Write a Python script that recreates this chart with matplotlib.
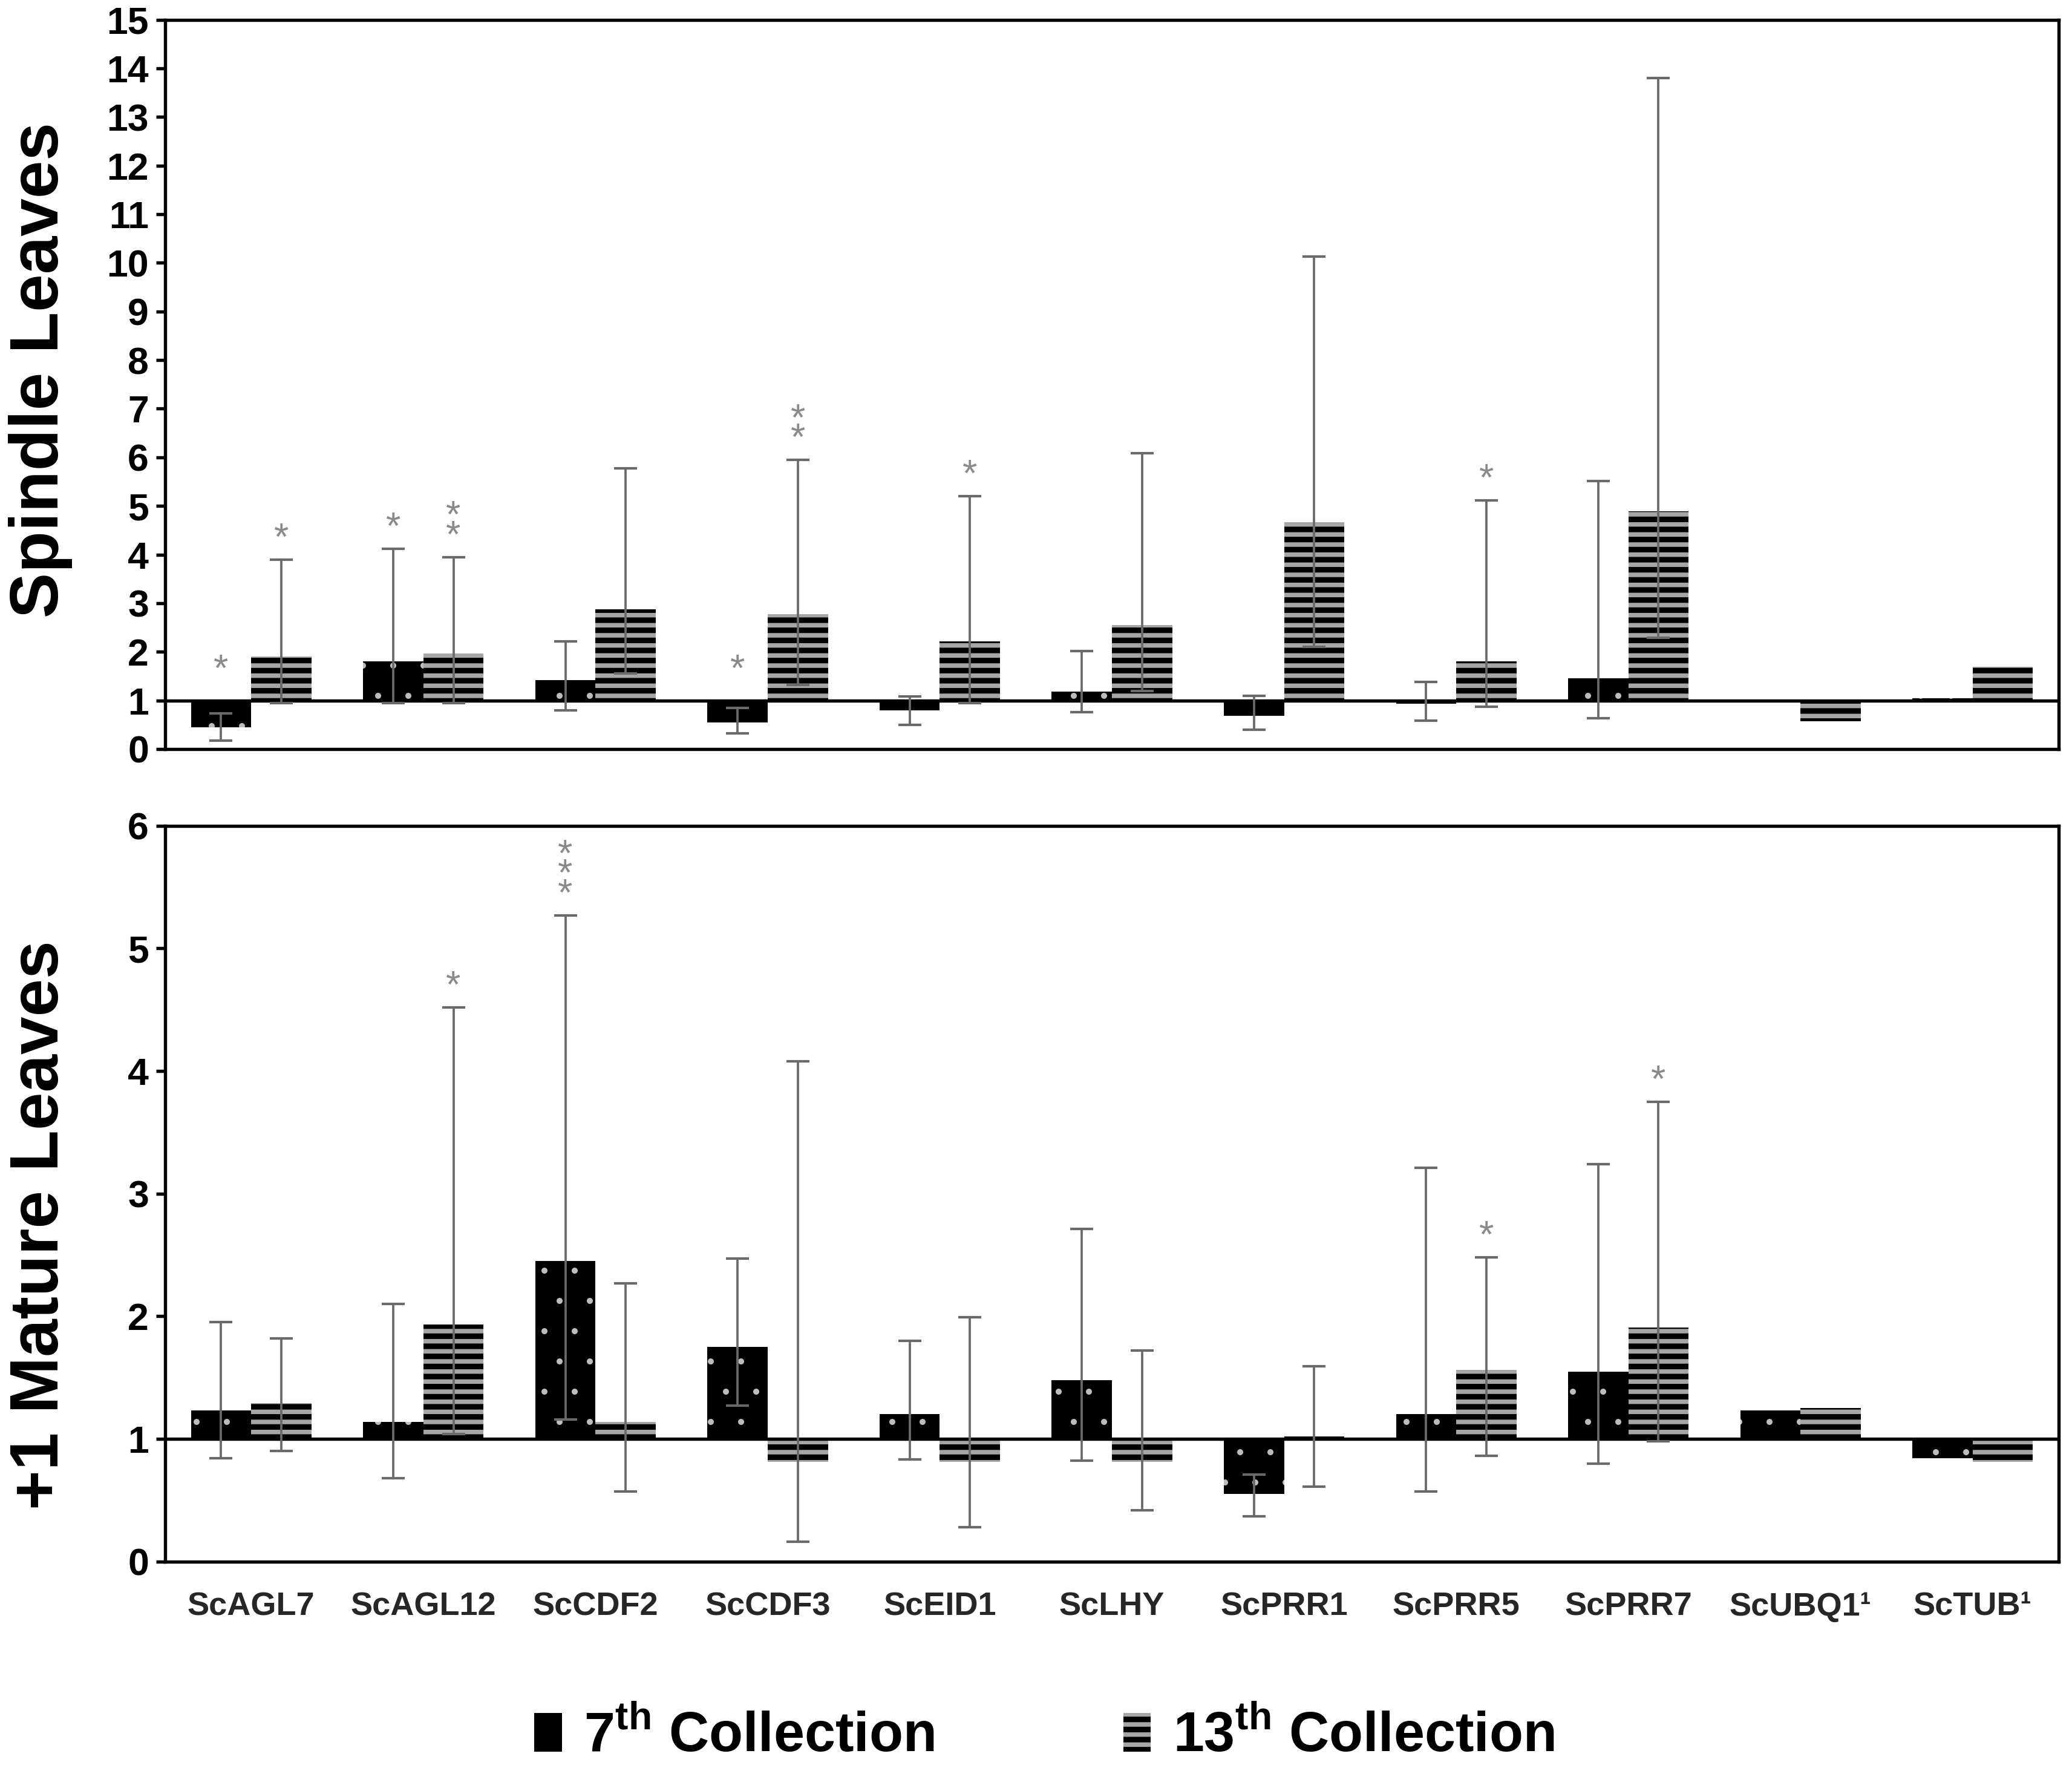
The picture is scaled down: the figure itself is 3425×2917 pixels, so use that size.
import numpy as np
import matplotlib.pyplot as plt
from matplotlib.patches import Patch

plt.rcParams['font.family'] = ['Liberation Sans', 'DejaVu Sans']
plt.rcParams['mathtext.fontset'] = 'custom'
plt.rcParams['mathtext.rm'] = 'Liberation Sans:bold'
plt.rcParams['hatch.linewidth'] = 2.2

nan = np.nan
genes = ['ScAGL7', 'ScAGL12', 'ScCDF2', 'ScCDF3', 'ScEID1', 'ScLHY',
         'ScPRR1', 'ScPRR5', 'ScPRR7', 'ScUBQ1¹', 'ScTUB¹']

# Spindle leaves: mean and error bar ends
sp7 = [0.45, 1.80, 1.42, 0.55, 0.80, 1.18, 0.68, 0.93, 1.46, 1.00, 1.05]
sp7_lo = [0.17, 0.95, 0.80, 0.32, 0.50, 0.76, 0.40, 0.59, 0.64, nan, nan]
sp7_hi = [0.73, 4.12, 2.22, 0.85, 1.08, 2.02, 1.10, 1.38, 5.51, nan, nan]
sp13 = [1.90, 1.96, 2.88, 2.77, 2.21, 2.55, 4.67, 1.80, 4.89, 0.57, 1.69]
sp13_lo = [0.95, 0.95, 1.55, 1.32, 0.95, 1.20, 2.10, 0.87, 2.29, nan, nan]
sp13_hi = [3.90, 3.95, 5.78, 5.95, 5.20, 6.08, 10.13, 5.12, 13.80, nan, nan]
sp7_sig = ['*', '*', '', '*', '', '', '', '', '', '', '']
sp13_sig = ['*', '**', '', '**', '*', '', '', '*', '', '', '']

# +1 mature leaves
mt7 = [1.23, 1.14, 2.45, 1.75, 1.20, 1.48, 0.55, 1.20, 1.55, 1.23, 0.84]
mt7_lo = [0.84, 0.68, 1.16, 1.27, 0.83, 0.82, 0.37, 0.57, 0.80, nan, nan]
mt7_hi = [1.95, 2.10, 5.27, 2.47, 1.80, 2.71, 0.71, 3.21, 3.24, nan, nan]
mt13 = [1.29, 1.93, 1.14, 0.81, 0.81, 0.81, 1.02, 1.56, 1.91, 1.25, 0.81]
mt13_lo = [0.90, 1.04, 0.57, 0.16, 0.28, 0.42, 0.61, 0.86, 0.98, nan, nan]
mt13_hi = [1.82, 4.52, 2.27, 4.08, 1.99, 1.72, 1.59, 2.48, 3.75, nan, nan]
mt7_sig = ['', '', '***', '', '', '', '', '', '', '', '']
mt13_sig = ['', '*', '', '', '', '', '', '*', '*', '', '']

fig = plt.figure(figsize=(3425 / 300, 2917 / 300), dpi=300)
ax1 = fig.add_axes([0.0797, 0.5756, 0.9139, 0.4132])
ax2 = fig.add_axes([0.0797, 0.1153, 0.9139, 0.4169])

x = np.arange(len(genes))
w = 0.35
err_col = '#6a6a6a'


def draw_series(ax, xs, vals, lo, hi, sig, style):
    vals = np.array(vals)
    lo = np.array(lo)
    hi = np.array(hi)
    if style == 7:
        bars = ax.bar(xs, vals - 1, width=w, bottom=1, color='black',
                      edgecolor='#bdbdbd', linewidth=0, hatch='.', zorder=2)
        hlw = 0.0
    else:
        bars = ax.bar(xs, vals - 1, width=w, bottom=1, color='#a6a6a6',
                      edgecolor='black', linewidth=0, hatch='---', zorder=2)
        hlw = 2.2
    for p in bars:
        if hasattr(p, 'set_hatch_linewidth'):
            p.set_hatch_linewidth(hlw)
    m = ~np.isnan(lo)
    ax.errorbar(xs[m], vals[m], yerr=[vals[m] - lo[m], hi[m] - vals[m]],
                fmt='none', ecolor=err_col, elinewidth=0.9, capsize=4.5,
                capthick=1.0, zorder=3)
    for i, s in enumerate(sig):
        if not s:
            continue
        y0 = hi[i] if hi[i] > 1 else 1.2
        ax.annotate('\n'.join(s), (xs[i], y0), xytext=(0, 1),
                    textcoords='offset points', ha='center', va='bottom',
                    color='#8a8a8a', fontsize=15, linespacing=0.42)
    return bars


for ax, d7, d13, ymax in [(ax1, (sp7, sp7_lo, sp7_hi, sp7_sig),
                                (sp13, sp13_lo, sp13_hi, sp13_sig), 15),
                               (ax2, (mt7, mt7_lo, mt7_hi, mt7_sig),
                                (mt13, mt13_lo, mt13_hi, mt13_sig), 6)]:
    b7 = draw_series(ax, x - w / 2, *d7, style=7)
    b13 = draw_series(ax, x + w / 2, *d13, style=13)
    ax.axhline(1, color='black', lw=1.3, zorder=2.5)
    ax.set_xlim(-0.5, len(genes) - 0.5)
    ax.set_ylim(0, ymax)
    ax.set_yticks(range(0, ymax + 1))
    for sp in ax.spines.values():
        sp.set_linewidth(1.3)
    ax.tick_params(axis='y', direction='out', length=3.5, width=1.3, pad=3)
    ax.tick_params(axis='x', length=0)
    for t in ax.get_yticklabels():
        t.set_fontfamily(['Liberation Sans Narrow', 'Liberation Sans'])
        t.set_fontweight('bold')
        t.set_fontsize(15)

ax1.set_xticks([])
ax2.set_xticks(x)
ax2.set_xticklabels(genes, fontsize=13, fontweight='bold', color='#262626')
ax2.tick_params(axis='x', pad=12)

ax1.set_ylabel('Spindle Leaves', fontsize=27, fontweight='bold')
ax2.set_ylabel('+1 Mature Leaves', fontsize=27, fontweight='bold')
ax1.yaxis.set_label_coords(-0.049, 0.52)
ax2.yaxis.set_label_coords(-0.049, 0.457)

h7 = Patch(facecolor='black', edgecolor='black', linewidth=0)
h13 = Patch(facecolor='#a6a6a6', edgecolor='black', linewidth=0, hatch='---')
if hasattr(h13, 'set_hatch_linewidth'):
    h13.set_hatch_linewidth(2.2)

fig.legend([h7, h13], [r'7$^{\rm th}$ Collection', r'13$^{\rm th}$ Collection'],
           loc='center', bbox_to_anchor=(0.504, 0.016), ncol=2, frameon=False,
           prop={'size': 22, 'weight': 'bold'}, handlelength=0.5,
           handleheight=0.7, handletextpad=0.4, columnspacing=3.4)

fig.savefig('out.png', dpi=300)
